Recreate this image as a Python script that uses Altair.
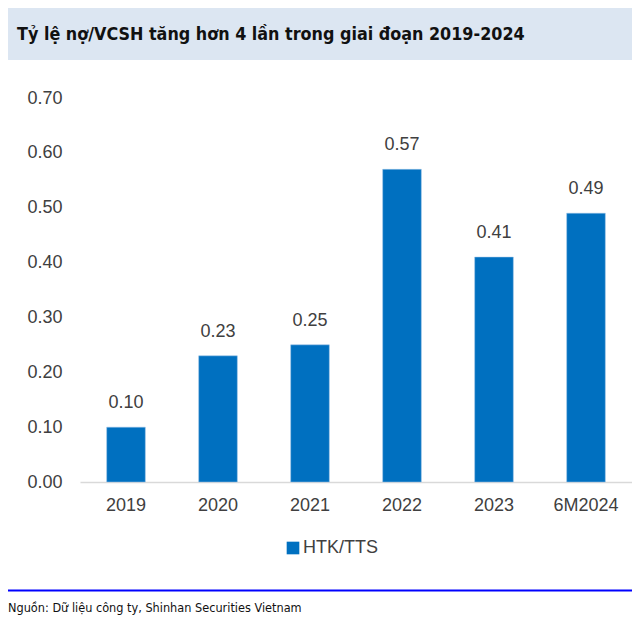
import altair as alt
import pandas as pd

categories = ["2019", "2020", "2021", "2022", "2023", "6M2024"]
values = [0.10, 0.23, 0.25, 0.57, 0.41, 0.49]
series_name = "HTK/TTS"
title_text = "Tỷ lệ nợ/VCSH tăng hơn 4 lần trong giai đoạn 2019-2024"
source_text = "Nguồn: Dữ liệu công ty, Shinhan Securities Vietnam"
y_ticks = [0.0, 0.1, 0.2, 0.3, 0.4, 0.5, 0.6, 0.7]

df = pd.DataFrame({"cat": categories, "val": values, "series": [series_name] * len(categories)})

W, H = 552, 384
TEXT = "#404040"
COND = "Liberation Sans Narrow, DejaVu Sans Condensed, sans-serif"

one = alt.Data(values=[{"a": 1}])

band = alt.Chart(one).mark_rect(color="#DCE6F2").encode(
    x=alt.value(-72), x2=alt.value(W), y=alt.value(-90), y2=alt.value(-38)
)
title = alt.Chart(one).mark_text(
    text=title_text, align="left", baseline="alphabetic", font=COND,
    fontSize=17.8, fontWeight="bold", color="#111111"
).encode(x=alt.value(-63), y=alt.value(-58))

xenc = alt.X("cat:N", sort=categories, title=None,
             scale=alt.Scale(paddingInner=0.58, paddingOuter=0.29),
             axis=alt.Axis(labelAngle=0, labelFontSize=18, labelColor=TEXT, labelFont="Liberation Sans",
                           ticks=False, domainColor="#D9D9D9", domainWidth=1.5, labelPadding=14))
yenc = alt.Y("val:Q", title=None, scale=alt.Scale(domain=[0, 0.7], nice=False),
             axis=alt.Axis(values=y_ticks, format=".2f", labelFontSize=18, labelColor=TEXT,
                           labelFont="Liberation Sans", ticks=False, domain=False, grid=False,
                           labelPadding=18))

bars = alt.Chart(df).mark_bar(stroke="#9DC3E6", strokeWidth=0.5).encode(
    x=xenc, y=yenc,
    color=alt.Color("series:N", scale=alt.Scale(domain=[series_name], range=["#0070C0"]),
                    legend=alt.Legend(title=None, orient="none", legendX=204, legendY=441,
                                      symbolType="square", symbolSize=160, symbolStrokeWidth=0,
                                      labelFontSize=18, labelColor=TEXT, labelFont="Liberation Sans",
                                      labelOffset=1, padding=0))
)
labels = alt.Chart(df).mark_text(
    dy=-24, baseline="middle", fontSize=18, color=TEXT, font="Liberation Sans"
).encode(x=alt.X("cat:N", sort=categories), y="val:Q", text=alt.Text("val:Q", format=".2f"))

rule = alt.Chart(one).mark_rule(color="#0000FF", strokeWidth=2).encode(
    x=alt.value(-72), x2=alt.value(W), y=alt.value(492.5)
)
source = alt.Chart(one).mark_text(
    text=source_text, align="left", baseline="alphabetic", font=COND,
    fontSize=12.6, color="#111111"
).encode(x=alt.value(-72), y=alt.value(514))

chart = alt.layer(band, title, bars, labels, rule, source).properties(
    width=W, height=H,
    autosize=alt.AutoSizeParams(type="none"),
    padding={"left": 72, "top": 90, "right": 0, "bottom": 136},
).configure_view(stroke=None)

chart.save("out.html", embed_options={"renderer": "svg", "actions": False})
